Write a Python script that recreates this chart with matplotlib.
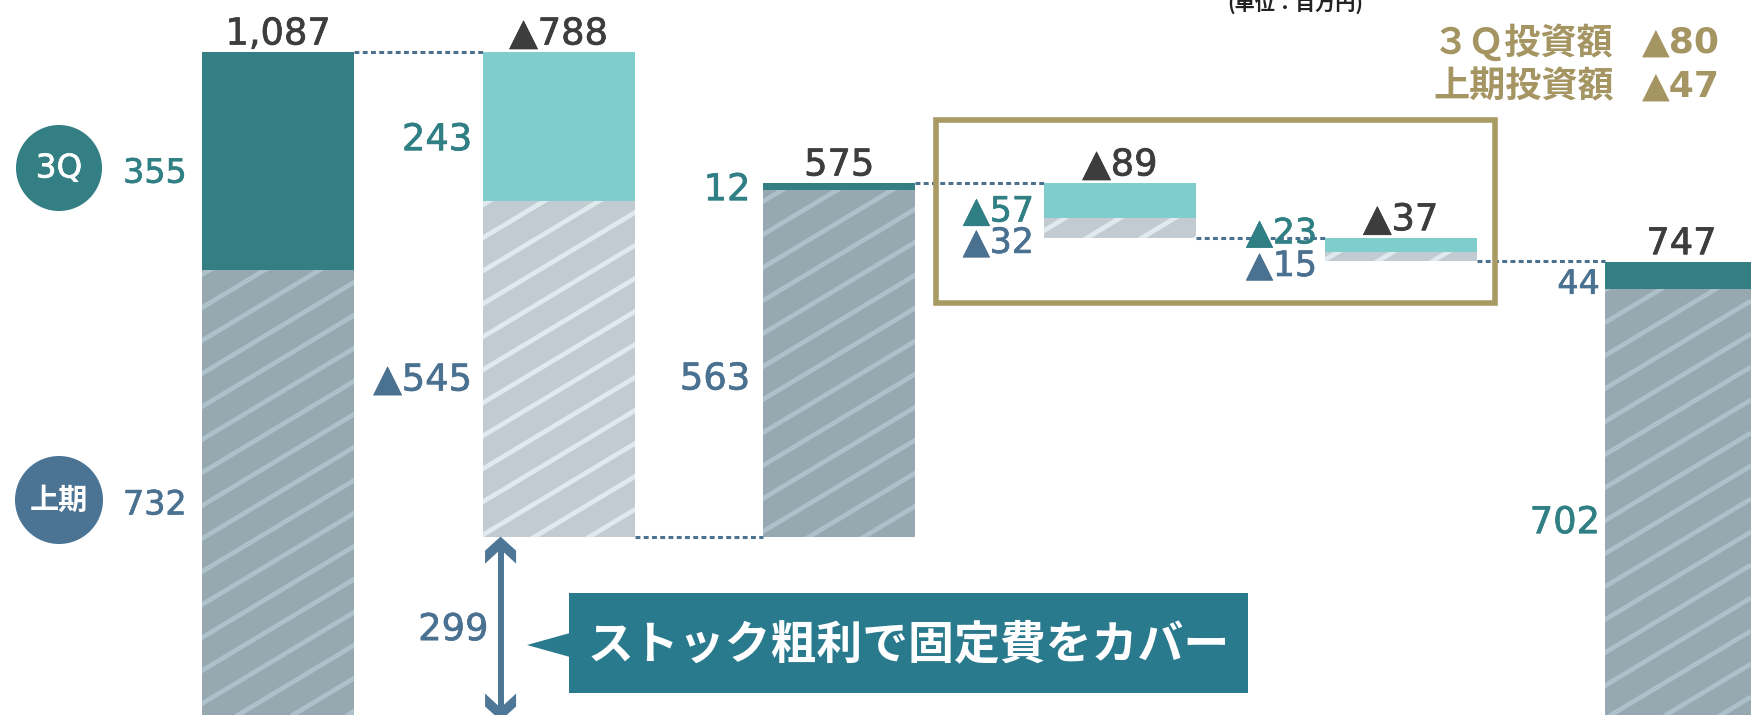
import matplotlib
matplotlib.use("Agg")
import matplotlib.pyplot as plt
import matplotlib.patheffects as pe
from matplotlib.patches import Rectangle, Circle, Polygon
from matplotlib.collections import LineCollection
import numpy as np

# ---------------- data ----------------
kinds = ["total", "down", "up", "down", "down", "total"]
q3_values = [355, 243, 12, 57, 23, 44]          # 3Q part
h1_values = [732, 545, 563, 32, 15, 702]        # 上期 part
total_labels = ["1,087", "▲788", "575", "▲89", "▲37", "747"]
q3_labels = ["355", "243", "12", "▲57", "▲23", "44"]
h1_labels = ["732", "▲545", "563", "▲32", "▲15", "702"]
gap_value = 299
gap_label = "299"
series_names = ["3Q", "上期"]
invest_names = ["３Ｑ投資額", "上期投資額"]
invest_values = ["▲80", "▲47"]
callout_text = "ストック粗利で固定費をカバー"
unit_text = "(単位：百万円)"

# ---------------- style ----------------
C_TEAL = "#337f84"
C_LTEAL = "#7fcdcc"
C_GRAY = "#98a8b0"
C_GRAY_STR = "#adc1ca"
C_LGRAY = "#c2cbd1"
C_LGRAY_STR = "#dfe9ee"
C_TXT_TEAL = "#2f7f84"
C_TXT_BLUE = "#4b7191"
C_TXT_DARK = "#3d3d3d"
C_GOLD = "#a59562"
C_CALLOUT = "#2a7a8e"
C_ARROW = "#4e7696"

NUM_FONT = ["DejaVu Sans", "Noto Sans CJK JP"]
JP_FONT = ["Noto Sans CJK JP", "DejaVu Sans"]


def thick(color):
    return [pe.withStroke(linewidth=0.5, foreground=color)]


W, H = 1751, 715
fig = plt.figure(figsize=(W / 100, H / 100), dpi=100)
ax = fig.add_axes([0, 0, 1, 1])
ax.set_xlim(-0.990, 5.248)
ax.set_ylim(9, 1171.5)
ax.axis("off")
ov = fig.add_axes([0, 0, 1, 1])
ov.set_xlim(0, W)
ov.set_ylim(H, 0)
ov.axis("off")
ov.patch.set_alpha(0)

PT = 0.72  # px -> points
bw = 0.5415
xs = np.arange(len(kinds))

# ---------------- waterfall geometry ----------------
h1_bottom, q3_bottom, tops, levels = [], [], [], []
running = 0
for k, q, h in zip(kinds, q3_values, h1_values):
    if k == "total":
        hb, qb, t = 0, h, h + q
        running = t
    elif k == "down":
        t = running
        qb = t - q
        hb = qb - h
        running = hb
    else:
        hb = running
        qb = running + h
        t = qb + q
        running = t
    h1_bottom.append(hb)
    q3_bottom.append(qb)
    tops.append(t)
    levels.append(running)

q3_colors = [C_LTEAL if k == "down" else C_TEAL for k in kinds]
h1_colors = [C_LGRAY if k == "down" else C_GRAY for k in kinds]
str_colors = [C_LGRAY_STR if k == "down" else C_GRAY_STR for k in kinds]

h1_bars = ax.bar(xs, h1_values, bottom=h1_bottom, width=bw, color=h1_colors, linewidth=0, zorder=2)
q3_bars = ax.bar(xs, q3_values, bottom=q3_bottom, width=bw, color=q3_colors, linewidth=0, zorder=3)

# diagonal stripes on 上期 parts
tan_a = np.tan(np.radians(31))
cs = np.arange(0, H + W * tan_a + 40, 33)
segs = [[(0, c), (W, c - W * tan_a)] for c in cs]
for rect, sc in zip(h1_bars.patches, str_colors):
    lc = LineCollection(segs, colors=sc, linewidths=3.4, zorder=4)
    ov.add_collection(lc)
    lc.set_clip_path(rect)

# dotted connectors
for i in range(len(kinds) - 1):
    ax.plot([xs[i] + bw / 2, xs[i + 1] - bw / 2], [levels[i], levels[i]],
            color=C_TXT_BLUE, lw=2.2, linestyle=(0, (1.6, 1.1)),
            dash_capstyle="butt", zorder=1)

# total labels above bars
for i in xs:
    ax.annotate(total_labels[i], xy=(xs[i], tops[i]), xytext=(0, 18 * PT),
                textcoords="offset points", ha="center", va="center",
                fontsize=26.5, color=C_TXT_DARK, family=NUM_FONT,
                path_effects=thick(C_TXT_DARK))

# side labels
gaps = [15, 10.5, 13, 10, 7.5, 5.5]
q3_dy = [12, 13, 3, 11, -11.5, 9]
h1_dy = [9.5, 11, 15.5, 15, 9.5, 18]
q3_fs = [24, 26.5, 26.5, 25, 25, 24]
h1_fs = [24, 26.5, 26.5, 25, 25, 26.5]
q3_tc = [C_TXT_TEAL] * 5 + [C_TXT_BLUE]
h1_tc = [C_TXT_BLUE] * 5 + [C_TXT_TEAL]
for i in xs:
    left = xs[i] - bw / 2
    qm = q3_bottom[i] + q3_values[i] / 2
    hm = h1_bottom[i] + h1_values[i] / 2
    ax.annotate(q3_labels[i], xy=(left, qm), xytext=(-gaps[i] * PT, -q3_dy[i] * PT),
                textcoords="offset points", ha="right", va="center",
                fontsize=q3_fs[i], color=q3_tc[i], family=NUM_FONT,
                path_effects=thick(q3_tc[i]))
    ax.annotate(h1_labels[i], xy=(left, hm), xytext=(-gaps[i] * PT, -h1_dy[i] * PT),
                textcoords="offset points", ha="right", va="center",
                fontsize=h1_fs[i], color=h1_tc[i], family=NUM_FONT,
                path_effects=thick(h1_tc[i]))


def to_px(x, v):
    d = ax.transData.transform((x, v))
    return d[0], H - d[1]


# double arrow for gap (299 .. 0)
ax_x, y_top = to_px(xs[1] - bw / 2, gap_value)
ax_x += 18
_, y_bot = to_px(xs[1] - bw / 2, 0)
ov.plot([ax_x, ax_x], [y_top + 12, y_bot - 12], color=C_ARROW, lw=4.3,
        solid_capstyle="butt", zorder=5)
for tip, sgn in [(y_top, 1), (y_bot, -1)]:
    pts = [(ax_x, tip), (ax_x + 15.5, tip + sgn * 14), (ax_x + 15.5, tip + sgn * 27),
           (ax_x + 2.5, tip + sgn * 15), (ax_x - 2.5, tip + sgn * 15),
           (ax_x - 15.5, tip + sgn * 27), (ax_x - 15.5, tip + sgn * 14)]
    ov.add_patch(Polygon(pts, closed=True, color=C_ARROW, lw=0, zorder=5))
ov.text(ax_x - 12, (y_top + y_bot) / 2 + 1, gap_label, ha="right", va="center",
        fontsize=26.5, color=C_TXT_BLUE, family=NUM_FONT,
        path_effects=thick(C_TXT_BLUE))

# callout
ov.add_patch(Rectangle((569, 593), 679, 100, color=C_CALLOUT, lw=0, zorder=5))
ov.add_patch(Polygon([(527, 645), (570, 633), (570, 657)], closed=True,
                     color=C_CALLOUT, lw=0, zorder=5))
ov.text(908.5, 645, callout_text, ha="center", va="center", fontsize=33,
        color="white", family=JP_FONT, weight="bold", zorder=6)

# series badges
ov.add_patch(Circle((59, 168), 43, color=C_TEAL, lw=0))
ov.text(59, 168, series_names[0], ha="center", va="center", fontsize=23.5,
        color="white", family=NUM_FONT, path_effects=thick("white"))
ov.add_patch(Circle((59, 500), 44, color="#4b7393", lw=0))
ov.text(59, 500, series_names[1], ha="center", va="center", fontsize=21,
        color="white", family=JP_FONT, weight="bold")

# gold box around small bars
ov.add_patch(Rectangle((936, 120), 559, 182.5, fill=False, edgecolor="#a89a63",
                       lw=4, zorder=6))

# investment texts
for j, (nm, vl) in enumerate(zip(invest_names, invest_values)):
    yy = 43 + j * 44
    ov.text(1433, yy, nm, ha="left", va="center", fontsize=26, color=C_GOLD,
            family=JP_FONT, weight="bold")
    ov.text(1720, yy, vl, ha="right", va="center", fontsize=26, color=C_GOLD,
            family=NUM_FONT, weight="bold")

# unit text (cropped at top)
ov.text(1295, 3, unit_text, ha="center", va="center", fontsize=14.5,
        color="#222222", family=JP_FONT, weight="bold")

fig.savefig("out.png", dpi=100, facecolor="white")
